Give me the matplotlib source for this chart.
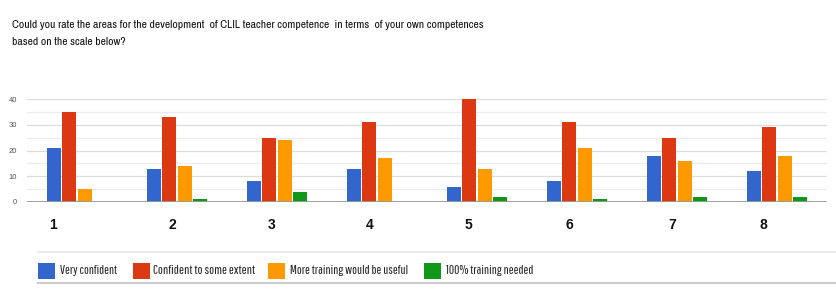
import matplotlib
matplotlib.use("Agg")
import matplotlib.pyplot as plt
from matplotlib import font_manager
from matplotlib.patches import Rectangle
import numpy as np

categories = ["1", "2", "3", "4", "5", "6", "7", "8"]
series_names = ["Very confident", "Confident to some extent",
                "More training would be useful", "100% training needed"]
very_confident = [21, 13, 8, 13, 6, 8, 18, 12]
confident_some = [35, 33, 25, 31, 40, 31, 25, 29]
more_training = [5, 14, 24, 17, 13, 21, 16, 18]
training_needed = [0, 1, 4, 0, 2, 1, 2, 2]
y_ticks = [0, 10, 20, 30, 40]
title_lines = ["Could you rate the areas for the development  of CLIL teacher competence  in terms  of your own competences",
               "based on the scale below?"]

colors = ["#3366CC", "#DC3912", "#FF9900", "#109618"]
label_offsets = [-0.24, -0.05, -0.05, -0.07, -0.09, -0.08, -0.05, -0.14]

names = {f.name for f in font_manager.fontManager.ttflist}


def pick(prefs):
    for p in prefs:
        if p in names:
            return p
    return "DejaVu Sans"


title_font = pick(["Archivo Narrow", "PT Sans Narrow", "Roboto Condensed", "Liberation Sans"])
narrow_font = pick(["Pathway Gothic One", "Sofia Sans Extra Condensed",
                    "Fira Sans Extra Condensed", "Archivo Narrow", "Liberation Sans"])
plt.rcParams['font.family'] = ['Liberation Sans', 'DejaVu Sans']

W, H = 836, 296
fig = plt.figure(figsize=(W / 100, H / 100), dpi=100)
renderer = fig.canvas.get_renderer()


def fit(t, target_px):
    w = t.get_window_extent(renderer).width
    t.set_fontsize(t.get_fontsize() * target_px / w)


ax = fig.add_axes([27 / W, (H - 202) / H, (827 - 27) / W, (202 - 99) / H])

x = np.arange(len(categories))
series = [very_confident, confident_some, more_training, training_needed]
step = 0.155
for k, (vals, c) in enumerate(zip(series, colors)):
    ax.bar(x + (k - 1.5) * step, vals, width=step - 0.012, color=c, zorder=3)

ax.set_xlim(-0.5, len(categories) - 0.5)
ax.set_ylim(0, 40)
ax.set_yticks(y_ticks)
ax.set_yticks([5, 15, 25, 35], minor=True)
ax.grid(axis='y', which='major', color='#dcdcdc', linewidth=0.9, zorder=0)
ax.grid(axis='y', which='minor', color='#ececec', linewidth=0.9, zorder=0)
ax.axhline(0, color='#999999', linewidth=1.3, zorder=4)
for s in ax.spines.values():
    s.set_visible(False)
ax.tick_params(axis='y', which='both', length=0, labelsize=5.5, labelcolor='#555555', pad=7)
ax.set_xticks([])
for i, (lab, off) in enumerate(zip(categories, label_offsets)):
    ax.text(i + off, -8.8, lab, ha='center', va='center', fontsize=10,
            fontweight='bold', color='#111111', clip_on=False)

# title, fitted to the reference width
t1 = fig.text(12 / W, 1 - 28 / H, title_lines[0], fontsize=9, family=title_font,
              ha='left', va='baseline', color='#111111')
fit(t1, 471)
fig.text(12 / W, 1 - 45 / H, title_lines[1], fontsize=t1.get_fontsize(), family=title_font,
         ha='left', va='baseline', color='#111111')

# legend separator lines
fig.add_artist(plt.Line2D([38 / W, 1.0], [1 - 252 / H] * 2, color='#e6e6e6', linewidth=1.2))
fig.add_artist(plt.Line2D([38 / W, 1.0], [1 - 283 / H] * 2, color='#cccccc', linewidth=1.5))

# legend drawn by hand to follow the reference placement
sq_x = [38, 133, 268, 424]
txt_x = [60, 153, 290, 446]
txt_w = [57, 102, 118, 87]
ly = 271
for i, (name, c) in enumerate(zip(series_names, colors)):
    fig.add_artist(Rectangle((sq_x[i] / W, 1 - (ly + 8) / H), 17 / W, 16 / H,
                             transform=fig.transFigure, facecolor=c, edgecolor='none'))
    t = fig.text(txt_x[i] / W, 1 - ly / H, name, family=narrow_font, fontsize=9,
                 ha='left', va='center', color='#222222')
    fit(t, txt_w[i])

fig.savefig("out.png", dpi=100, facecolor='white')
